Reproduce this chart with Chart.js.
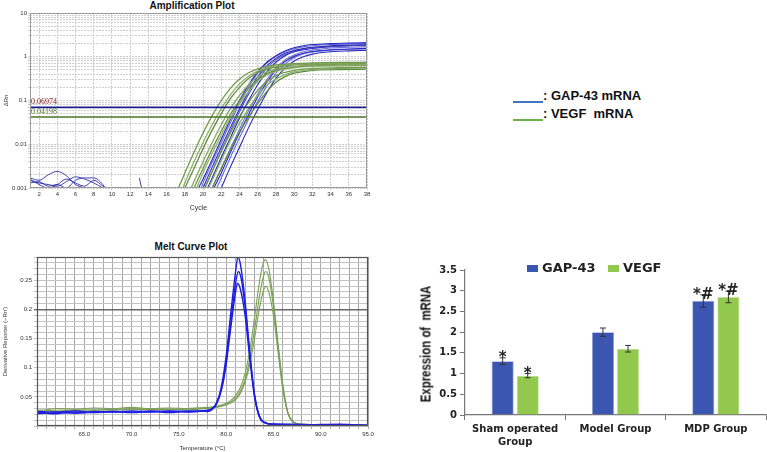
<!DOCTYPE html>
<html>
<head>
<meta charset="utf-8">
<script src="https://cdn.jsdelivr.net/npm/chart.js@4.4.1/dist/chart.umd.min.js"></script>
<style>
  body { margin: 0; background: #fff; width: 767px; height: 452px; position: relative; overflow: hidden; font-family: 'Liberation Sans', Arial, sans-serif; }
  canvas { position: absolute; }
  .plotTitle { position: absolute; font-weight: bold; font-size: 10px; line-height: 12px; color: #111; transform: translateX(-50%); white-space: nowrap; }
  .keyLine { position: absolute; height: 1.5px; width: 30px; }
  .keyText { position: absolute; font-weight: bold; font-size: 13px; line-height: 15px; color: #111; white-space: pre; }
  .barKey { position: absolute; font-family: 'DejaVu Sans', sans-serif; font-weight: bold; font-size: 13px; line-height: 14px; color: #222; }
  .barKey span.box { position: absolute; width: 11px; height: 7px; top: 4px; }
  .yTitle { position: absolute; left: 425px; top: 344px; font-weight: bold; font-size: 15px; line-height: 17px; color: #111; white-space: pre;
            transform: translate(-50%, -50%) rotate(-90deg) scaleX(0.76); }
</style>
</head>
<body>
<div class="plotTitle" style="left:192px; top:0px;">Amplification Plot</div>
<canvas id="ampChart" width="400" height="212" style="left:0; top:0;"></canvas>

<div class="keyLine" style="left:513px; top:101px; background:#4472c4;"></div>
<div class="keyText" style="left:543px; top:88px;">: GAP-43 mRNA</div>
<div class="keyLine" style="left:513px; top:119px; background:#70ad47;"></div>
<div class="keyText" style="left:543px; top:106px;">: VEGF  mRNA</div>

<div class="plotTitle" style="left:191px; top:241px;">Melt Curve Plot</div>
<canvas id="meltChart" width="400" height="212" style="left:0; top:240px;"></canvas>

<canvas id="barChart" width="357" height="202" style="left:410px; top:250px;"></canvas>
<div class="yTitle">Expression of  mRNA</div>
<div class="barKey" style="left:527px; top:261px;"><span class="box" style="left:0; background:#3b56b0;"></span><span style="margin-left:15px;">GAP-43</span></div>
<div class="barKey" style="left:608px; top:261px;"><span class="box" style="left:0; background:#92c84c;"></span><span style="margin-left:15px;">VEGF</span></div>

<script>
// ---- amplification plot data (cycle, delta Rn) ----
const ampCycleTicks = [2, 4, 6, 8, 10, 12, 14, 16, 18, 20, 22, 24, 26, 28, 30, 32, 34, 36, 38];
const ampDecades = [0.001, 0.01, 0.1, 1, 10];
const thresholdGap = 0.06974;
const thresholdVegf = 0.04198;

const ampGap1 = [[19.5,0.001],[20,0.0016],[21,0.0045],[22,0.013],[23,0.037],[24,0.1],[25,0.23],[26,0.45],[27,0.75],[28,1.05],[29,1.35],[30,1.6],[31,1.78],[32,1.9],[34,2.0],[36,2.05],[38,2.1]];
const ampGap2 = [[20,0.001],[21,0.003],[22,0.0085],[23,0.024],[24,0.065],[25,0.16],[26,0.35],[27,0.62],[28,0.92],[29,1.2],[30,1.4],[31,1.55],[32,1.65],[34,1.78],[36,1.85],[38,1.9]];
const ampGap3 = [[20.5,0.001],[21,0.0017],[22,0.005],[23,0.014],[24,0.04],[25,0.1],[26,0.23],[27,0.45],[28,0.75],[29,1.05],[30,1.3],[31,1.45],[32,1.55],[34,1.7],[36,1.78],[38,1.85]];
const ampGap4 = [[21,0.001],[22,0.0028],[23,0.008],[24,0.022],[25,0.058],[26,0.14],[27,0.3],[28,0.55],[29,0.85],[30,1.1],[31,1.3],[32,1.42],[34,1.58],[36,1.65],[38,1.7]];
const ampGap5 = [[21.5,0.001],[22,0.0017],[23,0.005],[24,0.014],[25,0.038],[26,0.095],[27,0.21],[28,0.42],[29,0.68],[30,0.95],[31,1.15],[32,1.28],[34,1.42],[36,1.48],[38,1.52]];
const ampGap6 = [[22,0.001],[23,0.003],[24,0.0085],[25,0.024],[26,0.062],[27,0.15],[28,0.32],[29,0.55],[30,0.8],[31,1.0],[32,1.15],[34,1.3],[36,1.36],[38,1.4]];
const ampGap7 = [[20.2,0.001],[21,0.0024],[22,0.007],[23,0.02],[24,0.055],[25,0.14],[26,0.3],[27,0.55],[28,0.85],[29,1.12],[30,1.35],[31,1.5],[32,1.6],[34,1.72],[36,1.8],[38,1.85]];
const ampGap8 = [[21.2,0.001],[22,0.0022],[23,0.0065],[24,0.018],[25,0.048],[26,0.12],[27,0.26],[28,0.5],[29,0.78],[30,1.02],[31,1.2],[32,1.32],[34,1.45],[36,1.5],[38,1.55]];
const ampGap9 = [[19.8,0.001],[20,0.0013],[21,0.0038],[22,0.011],[23,0.031],[24,0.085],[25,0.2],[26,0.42],[27,0.72],[28,1.02],[29,1.3],[30,1.52],[31,1.68],[32,1.78],[34,1.9],[36,1.95],[38,2.0]];

const ampVegf1 = [[17.3,0.001],[18,0.0022],[19,0.0065],[20,0.018],[21,0.045],[22,0.1],[23,0.19],[24,0.31],[25,0.43],[26,0.53],[27,0.6],[28,0.65],[30,0.7],[32,0.72],[35,0.74],[38,0.75]];
const ampVegf2 = [[18,0.001],[19,0.0028],[20,0.008],[21,0.021],[22,0.05],[23,0.11],[24,0.2],[25,0.32],[26,0.43],[27,0.52],[28,0.58],[30,0.65],[32,0.68],[35,0.7],[38,0.71]];
const ampVegf3 = [[18.7,0.001],[19,0.0014],[20,0.004],[21,0.011],[22,0.028],[23,0.065],[24,0.13],[25,0.23],[26,0.35],[27,0.45],[28,0.52],[30,0.6],[32,0.64],[35,0.66],[38,0.67]];
const ampVegf4 = [[19.3,0.001],[20,0.0022],[21,0.0062],[22,0.016],[23,0.04],[24,0.085],[25,0.16],[26,0.27],[27,0.38],[28,0.46],[29,0.52],[30,0.56],[32,0.6],[35,0.62],[38,0.63]];
const ampVegf5 = [[20.2,0.001],[21,0.0024],[22,0.0068],[23,0.018],[24,0.043],[25,0.09],[26,0.17],[27,0.27],[28,0.37],[29,0.44],[30,0.49],[32,0.54],[35,0.56],[38,0.57]];
const ampVegf6 = [[21,0.001],[22,0.0028],[23,0.0075],[24,0.019],[25,0.042],[26,0.085],[27,0.16],[28,0.26],[29,0.35],[30,0.42],[31,0.46],[32,0.49],[35,0.51],[38,0.52]];
const ampVegf7 = [[17.8,0.001],[18,0.0013],[19,0.004],[20,0.011],[21,0.028],[22,0.065],[23,0.135],[24,0.24],[25,0.36],[26,0.47],[27,0.55],[28,0.61],[30,0.67],[32,0.7],[35,0.72],[38,0.73]];
const ampVegf8 = [[19,0.001],[20,0.0028],[21,0.0078],[22,0.02],[23,0.048],[24,0.1],[25,0.19],[26,0.3],[27,0.41],[28,0.49],[29,0.55],[30,0.59],[32,0.63],[35,0.65],[38,0.66]];
const ampVegf9 = [[20.6,0.001],[21,0.0015],[22,0.0043],[23,0.012],[24,0.03],[25,0.065],[26,0.13],[27,0.22],[28,0.31],[29,0.39],[30,0.45],[32,0.51],[35,0.54],[38,0.55]];

const ampNoise1 = [[1,0.0017],[2,0.0015],[3,0.002],[4,0.0024],[5,0.0019],[6,0.0012],[7,0.001],[7.5,0.0009]];
const ampNoise2 = [[1,0.0015],[2,0.0013],[3,0.0012],[4,0.0011],[5,0.0014],[6,0.0018],[7,0.0016],[8,0.0013],[9,0.001],[9.3,0.0009]];
const ampNoise3 = [[1,0.0013],[2,0.0014],[3,0.0011],[4,0.0012],[5,0.001],[6,0.0015],[7,0.0017],[8,0.0017],[9,0.0012],[9.4,0.0009]];
const ampNoise4 = [[1,0.0016],[2,0.0012],[3,0.001],[4,0.0012],[5,0.0016],[6,0.0013],[7,0.0011],[8,0.0015],[9,0.0011],[9.5,0.0009]];
const ampNoise5 = [[13,0.0017],[13.3,0.0009]];

// ---- melt curve data (temperature, derivative reporter) ----
const meltTempLabels = [65, 70, 75, 80, 85, 90, 95];
const meltYLabels = [0.05, 0.1, 0.15, 0.2, 0.25];

const meltGap1 = [[60,0.024],[61,0.022],[62,0.021],[63,0.023],[64,0.024],[65,0.023],[66,0.025],[68,0.024],[70,0.026],[72,0.024],[74,0.025],[76,0.024],[77,0.025],[78,0.026],[78.5,0.029],[79,0.04],[79.5,0.068],[80,0.12],[80.5,0.195],[81,0.265],[81.25,0.29],[81.5,0.278],[82,0.215],[82.5,0.125],[83,0.052],[83.5,0.016],[84,0.006],[85,0.003],[87,0.003],[90,0.002],[93,0.002],[95,0.001]];
const meltGap2 = [[60,0.021],[62,0.023],[64,0.022],[66,0.024],[68,0.025],[70,0.023],[72,0.025],[74,0.026],[76,0.025],[78,0.027],[78.5,0.03],[79,0.04],[79.5,0.063],[80,0.11],[80.5,0.18],[81,0.245],[81.3,0.265],[81.6,0.252],[82,0.205],[82.5,0.125],[83,0.055],[83.5,0.018],[84,0.007],[85,0.003],[88,0.002],[92,0.003],[95,0.001]];
const meltGap3 = [[60,0.025],[62,0.024],[64,0.026],[66,0.023],[68,0.025],[70,0.024],[72,0.026],[74,0.023],[76,0.026],[78,0.025],[78.5,0.028],[79,0.038],[79.5,0.062],[80,0.105],[80.5,0.17],[81,0.23],[81.2,0.245],[81.5,0.235],[82,0.19],[82.5,0.115],[83,0.05],[83.5,0.017],[84,0.006],[85,0.003],[89,0.002],[95,0.001]];

const meltVegf1 = [[60,0.027],[61,0.028],[62,0.03],[64,0.029],[66,0.031],[68,0.03],[70,0.032],[72,0.03],[74,0.031],[76,0.03],[78,0.032],[79,0.034],[80,0.039],[80.5,0.044],[81,0.052],[81.5,0.066],[82,0.09],[82.5,0.13],[83,0.185],[83.5,0.245],[84,0.283],[84.2,0.285],[84.5,0.27],[85,0.215],[85.5,0.14],[86,0.07],[86.5,0.025],[87,0.008],[88,0.003],[90,0.002],[95,0.001]];
const meltVegf2 = [[60,0.025],[62,0.027],[64,0.028],[66,0.027],[68,0.029],[70,0.028],[72,0.029],[74,0.028],[76,0.03],[78,0.031],[79,0.033],[80,0.037],[81,0.048],[81.5,0.06],[82,0.08],[82.5,0.115],[83,0.165],[83.5,0.22],[84,0.26],[84.2,0.265],[84.5,0.255],[85,0.205],[85.5,0.135],[86,0.068],[86.5,0.025],[87,0.009],[88,0.003],[91,0.002],[95,0.001]];
const meltVegf3 = [[60,0.023],[62,0.025],[64,0.026],[66,0.028],[68,0.027],[70,0.03],[72,0.028],[74,0.029],[76,0.028],[78,0.03],[79,0.032],[80,0.036],[81,0.045],[81.5,0.056],[82,0.075],[82.5,0.105],[83,0.15],[83.5,0.2],[84,0.235],[84.2,0.24],[84.5,0.23],[85,0.19],[85.5,0.125],[86,0.062],[86.5,0.023],[87,0.008],[88,0.003],[95,0.001]];

// ---- bar chart data ----
const groups = [['Sham operated', 'Group'], 'Model Group', 'MDP Group'];
const gap43 = [1.3, 2.0, 2.75];
const vegf = [0.95, 1.6, 2.85];
const gap43Err = [0.08, 0.1, 0.15];
const vegfErr = [0.05, 0.08, 0.14];
const gap43Marks = ['*', '', '*#'];
const vegfMarks = ['*', '', '*#'];
const barTicks = [0, 0.5, 1, 1.5, 2, 2.5, 3, 3.5];

Chart.defaults.font.family = "'Liberation Sans', Arial, sans-serif";
Chart.defaults.color = '#222';

const toXY = arr => arr.map(p => ({ x: p[0], y: p[1] }));

function curve(arr, color, width) {
    return {
        data: toXY(arr),
        borderColor: color,
        borderWidth: width,
        pointRadius: 0,
        fill: false,
        cubicInterpolationMode: 'monotone'
    };
}

// frame around plot area
const frame = {
    id: 'frame',
    afterDraw(chart, args, opts) {
        const a = chart.chartArea, ctx = chart.ctx;
        ctx.save();
        ctx.strokeStyle = opts.color || '#888';
        ctx.lineWidth = opts.width || 1;
        ctx.strokeRect(a.left + 0.5, a.top + 0.5, a.right - a.left - 1, a.bottom - a.top - 1);
        ctx.restore();
    }
};

// ---------------- amplification plot ----------------
const logGrid = [];
ampDecades.slice(0, -1).forEach(d => {
    for (let s = 1; s < 10; s++) logGrid.push(+(d * s).toPrecision(3));
});
logGrid.push(10);

const thresholdText = {
    id: 'thresholdText',
    afterDatasetsDraw(chart) {
        const ctx = chart.ctx, y = chart.scales.y, a = chart.chartArea;
        ctx.save();
        ctx.font = "8px 'Liberation Serif', serif";
        ctx.textBaseline = 'bottom';
        ctx.fillStyle = '#8b1a1a';
        ctx.fillText(String(thresholdGap), a.left + 1, y.getPixelForValue(thresholdGap) - 1);
        ctx.fillStyle = '#4f7a2c';
        ctx.fillText(String(thresholdVegf), a.left + 1, y.getPixelForValue(thresholdVegf) - 1);
        ctx.restore();
    }
};

const gapCurves = [ampGap1, ampGap9, ampGap2, ampGap7, ampGap3, ampGap4, ampGap8, ampGap5, ampGap6];
const vegfCurves = [ampVegf1, ampVegf7, ampVegf2, ampVegf3, ampVegf8, ampVegf4, ampVegf5, ampVegf9, ampVegf6];
const gapColors = ['#2626c8', '#6b6bd6', '#2a2ab8', '#5050d0', '#1f1fb0', '#7070d8'];
const vegfColors = ['#6f9a48', '#8db06c', '#5f8c3c', '#86a862', '#6a9444', '#93b574'];

new Chart(document.getElementById('ampChart'), {
    type: 'line',
    data: {
        datasets: [
            curve([[1, thresholdGap], [38, thresholdGap]], '#1c1c8c', 1.6),
            curve([[1, thresholdVegf], [38, thresholdVegf]], '#4f7a2c', 1.6),
            ...vegfCurves.map((c, i) => curve(c, vegfColors[i % vegfColors.length], 1.3)),
            ...gapCurves.map((c, i) => curve(c, gapColors[i % gapColors.length], 1.1)),
            ...[ampNoise1, ampNoise2, ampNoise3, ampNoise4, ampNoise5].map(c => curve(c, '#2a2aa8', 0.9))
        ]
    },
    options: {
        responsive: false,
        animation: false,
        devicePixelRatio: 1,
        layout: { padding: { top: 13, right: 33, left: 0, bottom: 0 } },
        plugins: { legend: { display: false }, tooltip: { enabled: false }, frame: { color: '#9a9a9a', width: 1 } },
        scales: {
            x: {
                type: 'linear',
                min: 1,
                max: 38,
                afterBuildTicks: s => { s.ticks = ampCycleTicks.map(v => ({ value: v })); },
                afterFit: s => { s.height = 24; },
                grid: { color: '#cfcfcf', tickLength: 2, drawTicks: true },
                border: { display: false, dash: [2, 1] },
                ticks: { font: { size: 6 }, padding: 1, autoSkip: false, maxRotation: 0, color: '#333' },
                title: { display: true, text: 'Cycle', font: { size: 7 }, padding: { top: 1, bottom: 0 }, color: '#333' }
            },
            y: {
                type: 'logarithmic',
                min: 0.001,
                max: 10,
                afterBuildTicks: s => { s.ticks = logGrid.map(v => ({ value: v })); },
                afterFit: s => { s.width = 30; },
                grid: { color: '#cfcfcf', tickLength: 2 },
                border: { display: false, dash: [2, 1] },
                ticks: {
                    font: { size: 6 }, padding: 1, autoSkip: false, color: '#333',
                    callback: v => ampDecades.includes(v) ? String(v) : ''
                },
                title: { display: true, text: 'ΔRn', font: { size: 6 }, padding: { top: 3, bottom: 0 }, color: '#333' }
            }
        }
    },
    plugins: [frame, thresholdText]
});

// ---------------- melt curve plot ----------------
const meltXGrid = [];
for (let t = 60; t <= 95; t++) meltXGrid.push(t);
const meltYGrid = [];
for (let k = 0; k <= 29; k++) meltYGrid.push(k / 100);

new Chart(document.getElementById('meltChart'), {
    type: 'line',
    data: {
        datasets: [
            ...[meltGap1, meltGap2, meltGap3].map(c => curve(c, '#1e1ee0', 1.4)),
            ...[meltVegf1, meltVegf2, meltVegf3].map(c => curve(c, '#7c9e58', 1.1))
        ]
    },
    options: {
        responsive: false,
        animation: false,
        devicePixelRatio: 1,
        layout: { padding: { top: 17, right: 32, left: 0, bottom: 0 } },
        plugins: { legend: { display: false }, tooltip: { enabled: false }, frame: { color: '#555', width: 1.2 } },
        scales: {
            x: {
                type: 'linear',
                min: 60,
                max: 95,
                afterBuildTicks: s => { s.ticks = meltXGrid.map(v => ({ value: v })); },
                afterFit: s => { s.height = 26; },
                grid: { color: '#a8a8a8', tickLength: 3 },
                border: { display: false },
                ticks: {
                    font: { size: 6 }, padding: 2, autoSkip: false, maxRotation: 0, color: '#333',
                    callback: v => meltTempLabels.includes(v) ? v.toFixed(1) : ''
                },
                title: { display: true, text: 'Temperature (°C)', font: { size: 6 }, padding: { top: 3, bottom: 0 }, color: '#333' }
            },
            y: {
                type: 'linear',
                min: 0,
                max: 0.29,
                afterBuildTicks: s => { s.ticks = meltYGrid.map(v => ({ value: v })); },
                afterFit: s => { s.width = 37; },
                grid: {
                    color: ctx => (ctx.tick && Math.abs(ctx.tick.value - 0.2) < 1e-9) ? '#6a6a6a' : '#c4c4c4',
                    lineWidth: ctx => (ctx.tick && Math.abs(ctx.tick.value - 0.2) < 1e-9) ? 1.4 : 1,
                    tickLength: 3
                },
                border: { display: false },
                ticks: {
                    font: { size: 6 }, padding: 2, autoSkip: false, color: '#333',
                    callback: v => meltYLabels.some(l => Math.abs(l - v) < 1e-9) ? String(+v.toFixed(2)) : ''
                },
                title: { display: true, text: "Derivative Reporter (−Rn')", font: { size: 6 }, padding: { top: 2, bottom: 0 }, color: '#333' }
            }
        }
    },
    plugins: [frame]
});

// ---------------- bar chart ----------------
const errorBars = {
    id: 'errorBars',
    afterDatasetsDraw(chart) {
        const ctx = chart.ctx, y = chart.scales.y;
        ctx.save();
        ctx.strokeStyle = '#333';
        ctx.lineWidth = 1;
        [gap43Err, vegfErr].forEach((errs, di) => {
            const vals = chart.data.datasets[di].data;
            chart.getDatasetMeta(di).data.forEach((bar, i) => {
                const top = y.getPixelForValue(vals[i] + errs[i]);
                const bot = y.getPixelForValue(vals[i] - errs[i]);
                ctx.beginPath();
                ctx.moveTo(bar.x, top); ctx.lineTo(bar.x, bot);
                ctx.moveTo(bar.x - 3, top); ctx.lineTo(bar.x + 3, top);
                ctx.moveTo(bar.x - 3, bot); ctx.lineTo(bar.x + 3, bot);
                ctx.stroke();
            });
        });
        ctx.restore();
    }
};

const sigMarks = {
    id: 'sigMarks',
    afterDatasetsDraw(chart) {
        const ctx = chart.ctx, y = chart.scales.y;
        ctx.save();
        ctx.font = "bold 15px 'DejaVu Sans', sans-serif";
        ctx.fillStyle = '#222';
        ctx.textAlign = 'center';
        ctx.textBaseline = 'alphabetic';
        [[gap43Marks, gap43Err], [vegfMarks, vegfErr]].forEach(([marks, errs], di) => {
            const vals = chart.data.datasets[di].data;
            chart.getDatasetMeta(di).data.forEach((bar, i) => {
                if (!marks[i]) return;
                const top = y.getPixelForValue(vals[i] + errs[i]);
                ctx.fillText(marks[i], bar.x, top + 4);
            });
        });
        ctx.restore();
    }
};

new Chart(document.getElementById('barChart'), {
    type: 'bar',
    data: {
        labels: groups,
        datasets: [
            { label: 'GAP-43', data: gap43, backgroundColor: '#3b56b0', borderColor: '#8ea0d8', borderWidth: 0.8 },
            { label: 'VEGF', data: vegf, backgroundColor: '#92c84c', borderColor: '#c4e29c', borderWidth: 0.8 }
        ]
    },
    options: {
        responsive: false,
        animation: false,
        devicePixelRatio: 1,
        layout: { padding: { top: 20, right: 1, left: 0, bottom: 0 } },
        datasets: { bar: { categoryPercentage: 0.5, barPercentage: 0.88 } },
        plugins: { legend: { display: false }, tooltip: { enabled: false } },
        scales: {
            x: {
                afterFit: s => { s.height = 37; },
                grid: { drawOnChartArea: false, tickLength: 5, color: '#777', offset: true },
                border: { color: '#777', width: 1.2 },
                ticks: { font: { family: "'DejaVu Sans', sans-serif", size: 10, weight: 'bold', lineHeight: 1.3 }, padding: 3, color: '#222', maxRotation: 0, autoSkip: false }
            },
            y: {
                min: 0,
                max: 3.5,
                afterBuildTicks: s => { s.ticks = barTicks.map(v => ({ value: v })); },
                afterFit: s => { s.width = 55; },
                grid: { drawOnChartArea: false, tickLength: 5, color: '#777' },
                border: { color: '#777', width: 1.2 },
                ticks: { font: { family: "'DejaVu Sans', sans-serif", size: 10, weight: 'bold' }, padding: 3, color: '#222', callback: v => String(v) }
            }
        }
    },
    plugins: [errorBars, sigMarks]
});
</script>
</body>
</html>
